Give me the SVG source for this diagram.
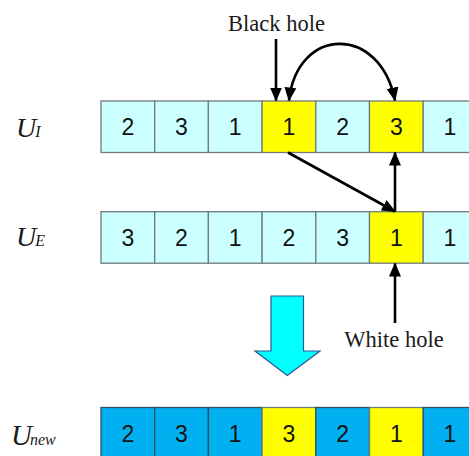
<svg xmlns="http://www.w3.org/2000/svg" width="469" height="456" viewBox="0 0 469 456">
  <style>
    .cell rect { stroke: #6f7b7b; stroke-width: 1.3; }
    .pale rect { fill: #ccffff; }
    .hole rect { fill: #ffff00; }
    .deep rect { fill: #00b0f0; stroke: #2c4f63; }
    .cell text { font-family: "Liberation Sans", Arial, sans-serif; font-size: 23px; fill: #111; text-anchor: middle; }
    .lab { font-family: "Liberation Serif", "Times New Roman", serif; font-style: italic; fill: #1a1a1a; }
    .cap { font-family: "Liberation Serif", "Times New Roman", serif; font-size: 22.5px; fill: #1a1a1a; text-anchor: middle; }
    .conn path { fill: none; stroke: #000; stroke-width: 2.6; }
  </style>
  <defs>
    <marker id="tip" viewBox="0 0 14 12" refX="13" refY="6" markerWidth="14" markerHeight="12" markerUnits="userSpaceOnUse" orient="auto-start-reverse">
      <path d="M0,0 L14,6 L0,12 Z" fill="#000"/>
    </marker>
  </defs>

  <rect width="469" height="456" fill="#fff"/>

  <!-- row labels -->
  <g id="label-ui"><text class="lab" x="16" y="137" font-size="28">U<tspan font-size="16" dx="-1">I</tspan></text></g>
  <g id="label-ue"><text class="lab" x="16" y="246" font-size="28">U<tspan font-size="16" dx="-1">E</tspan></text></g>
  <g id="label-unew"><text class="lab" x="11" y="445" font-size="29">U<tspan font-size="16" dx="-2">new</tspan></text></g>

  <!-- row U_I -->
  <g id="ui-1" class="cell pale"><rect x="101" y="101" width="53.7" height="51.5"/><text x="127.8" y="135">2</text></g>
  <g id="ui-2" class="cell pale"><rect x="154.7" y="101" width="53.7" height="51.5"/><text x="181.5" y="135">3</text></g>
  <g id="ui-3" class="cell pale"><rect x="208.4" y="101" width="53.7" height="51.5"/><text x="235.2" y="135">1</text></g>
  <g id="ui-4" class="cell hole"><rect x="262.1" y="101" width="53.7" height="51.5"/><text x="288.9" y="135">1</text></g>
  <g id="ui-5" class="cell pale"><rect x="315.8" y="101" width="53.7" height="51.5"/><text x="342.6" y="135">2</text></g>
  <g id="ui-6" class="cell hole"><rect x="369.5" y="101" width="53.7" height="51.5"/><text x="396.3" y="135">3</text></g>
  <g id="ui-7" class="cell pale"><rect x="423.2" y="101" width="53.7" height="51.5"/><text x="450" y="135">1</text></g>

  <!-- row U_E -->
  <g id="ue-1" class="cell pale"><rect x="101" y="211.7" width="53.7" height="51.5"/><text x="127.8" y="245.7">3</text></g>
  <g id="ue-2" class="cell pale"><rect x="154.7" y="211.7" width="53.7" height="51.5"/><text x="181.5" y="245.7">2</text></g>
  <g id="ue-3" class="cell pale"><rect x="208.4" y="211.7" width="53.7" height="51.5"/><text x="235.2" y="245.7">1</text></g>
  <g id="ue-4" class="cell pale"><rect x="262.1" y="211.7" width="53.7" height="51.5"/><text x="288.9" y="245.7">2</text></g>
  <g id="ue-5" class="cell pale"><rect x="315.8" y="211.7" width="53.7" height="51.5"/><text x="342.6" y="245.7">3</text></g>
  <g id="ue-6" class="cell hole"><rect x="369.5" y="211.7" width="53.7" height="51.5"/><text x="396.3" y="245.7">1</text></g>
  <g id="ue-7" class="cell pale"><rect x="423.2" y="211.7" width="53.7" height="51.5"/><text x="450" y="245.7">1</text></g>

  <!-- row U_new -->
  <g id="un-1" class="cell deep"><rect x="101" y="407.5" width="53.7" height="51.5"/><text x="127.8" y="442">2</text></g>
  <g id="un-2" class="cell deep"><rect x="154.7" y="407.5" width="53.7" height="51.5"/><text x="181.5" y="442">3</text></g>
  <g id="un-3" class="cell deep"><rect x="208.4" y="407.5" width="53.7" height="51.5"/><text x="235.2" y="442">1</text></g>
  <g id="un-4" class="cell hole"><rect x="262.1" y="407.5" width="53.7" height="51.5" stroke="#2c4f63"/><text x="288.9" y="442">3</text></g>
  <g id="un-5" class="cell deep"><rect x="315.8" y="407.5" width="53.7" height="51.5"/><text x="342.6" y="442">2</text></g>
  <g id="un-6" class="cell hole"><rect x="369.5" y="407.5" width="53.7" height="51.5" stroke="#2c4f63"/><text x="396.3" y="442">1</text></g>
  <g id="un-7" class="cell deep"><rect x="423.2" y="407.5" width="53.7" height="51.5"/><text x="450" y="442">1</text></g>

  <!-- captions -->
  <g id="black-hole"><text class="cap" x="276.5" y="31">Black hole</text></g>
  <g id="white-hole"><text class="cap" x="394" y="347">White hole</text></g>

  <!-- merge arrow -->
  <g id="merge-arrow">
    <polygon points="271,296 303.5,296 303.5,351 320,351 287.3,375.5 255,351 271,351" fill="#00ffff" stroke="#2f5597" stroke-width="1.2"/>
  </g>

  <!-- connectors -->
  <g class="conn">
    <path d="M276,39 L276,100.5" marker-end="url(#tip)"/>
    <path d="M289,100.5 C297,26 380,24 395,100.5" marker-start="url(#tip)" marker-end="url(#tip)"/>
    <path d="M288,152.5 L395,211.5" marker-end="url(#tip)"/>
    <path d="M395,211.5 L395,152.5" marker-end="url(#tip)"/>
    <path d="M395,323 L395,263.5" marker-end="url(#tip)"/>
  </g>
</svg>
